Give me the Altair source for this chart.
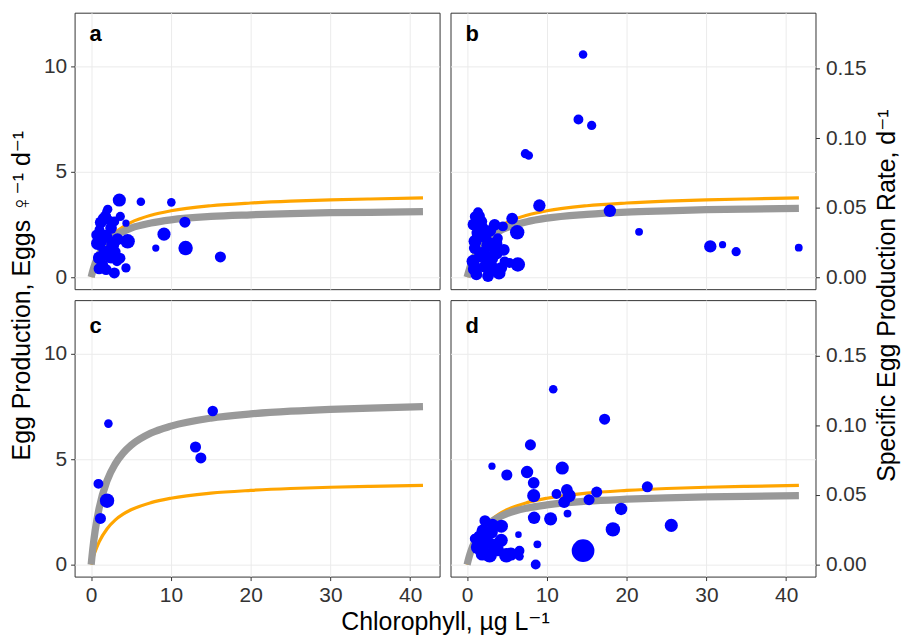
import altair as alt
import pandas as pd

# ---------------- data ----------------
# panel a
a_x = [3.53, 6.23, 10.05, 2.08, 3.65, 4.36, 1.46, 1.04, 2.49, 4.57, 1.25, 2.70, 1.04, 2.49, 1.87,
       2.90, 4.36, 1.46, 1.66, 2.90, 9.13, 8.10, 11.75, 11.84, 3.24, 1.87, 16.20, 2.0, 2.2, 1.5, 3.0,
       0.8, 1.2, 2.2, 1.8, 3.3, 1.0, 3.6, 0.7]
a_y = [3.66, 3.58, 3.55, 3.22, 2.88, 2.56, 2.80, 2.25, 2.33, 1.70, 1.70, 1.54, 0.91, 0.99, 0.36,
       0.20, 0.44, 1.30, 2.01, 2.64, 2.04, 1.38, 2.61, 1.38, 0.75, 3.11, 0.96, 1.9, 2.7, 0.6, 1.2,
       1.6, 2.6, 1.2, 2.9, 1.8, 0.4, 0.9, 2.0]
a_w = [2.8, 1.2, 1.2, 1.4, 1.4, 0.85, 1.6, 1.6, 2.25, 3.4, 2.25, 2.8, 2.8, 3.4, 2.0,
       2.0, 1.4, 1.4, 1.6, 1.6, 2.8, 0.85, 2.0, 3.4, 1.6, 1.0, 2.0, 2.0, 1.6, 1.6, 2.0,
       2.8, 2.25, 2.8, 2.0, 2.25, 2.0, 2.0, 2.0]
# panel b
b_x = [14.54, 13.96, 15.62, 7.31, 7.73, 9.06, 17.90, 5.65, 6.28, 6.36, 21.56, 30.49, 32.03, 33.73, 41.58,
       1.37, 3.45, 4.49, 1.37, 1.79, 3.04, 0.96, 3.66, 0.75, 2.42, 2.62, 1.17, 4.28, 2.21, 3.86,
       1.58, 4.70, 0.96, 5.32,
       1.0, 2.0, 3.0, 1.9, 2.6, 1.0, 3.6, 4.0, 1.5, 2.9, 3.3, 0.8, 4.6]
b_y = [10.57, 7.48, 7.20, 5.86, 5.77, 3.40, 3.15, 2.78, 2.13, 0.60, 2.15, 1.46, 1.54, 1.21, 1.40,
       3.08, 2.48, 2.41, 2.09, 2.64, 1.54, 1.38, 1.15, 0.75, 0.52, 0.05, 0.13, 0.44, 1.93, 1.85,
       0.99, 0.75, 2.88, 0.67,
       0.4, 1.1, 0.9, 2.3, 1.5, 1.7, 1.6, 0.2, 2.9, 2.2, 0.4, 2.5, 1.3]
b_w = [1.2, 1.6, 1.4, 1.4, 1.2, 2.5, 2.5, 2.25, 3.4, 3.4, 1.0, 2.5, 0.85, 1.4, 1.0,
       1.6, 2.25, 1.6, 2.8, 2.25, 3.4, 2.25, 2.8, 2.8, 3.4, 2.25, 2.25, 2.25, 2.8, 1.6,
       2.25, 1.6, 1.6, 1.6,
       3.4, 3.4, 3.4, 2.8, 2.8, 2.8, 2.8, 2.8, 2.25, 2.25, 2.8, 2.25, 2.25]
# panel c
c_x = [2.16, 0.91, 1.99, 1.16, 13.08, 13.75, 15.24]
c_y = [6.69, 3.83, 3.03, 2.19, 5.58, 5.06, 7.29]
c_w = [1.2, 1.6, 3.4, 2.0, 2.0, 2.0, 1.8]
# panel d
d_x = [10.80, 17.24, 7.94, 3.12, 4.98, 7.52, 11.93, 8.35, 8.35, 11.21, 12.51, 12.80, 12.17, 12.59,
       16.25, 15.29, 22.60, 19.31, 10.47, 8.40, 18.28, 25.60, 14.54, 6.44, 8.81, 8.60, 6.57, 6.57,
       2.24, 4.30, 1.58, 3.04, 4.28, 1.37, 2.83, 4.91, 3.45, 0.96, 2.2,
       2.0, 2.5, 3.8, 1.9, 3.2, 5.5]
d_y = [8.32, 6.90, 5.68, 4.67, 4.25, 4.39, 4.58, 3.88, 3.27, 3.35, 3.54, 3.27, 2.96, 2.42,
       3.44, 3.08, 3.69, 2.64, 2.17, 2.22, 1.67, 1.86, 0.66, 1.42, 0.96, 0.00, 0.66, 0.39,
       2.08, 1.82, 1.31, 1.54, 1.15, 0.83, 0.44, 0.44, 0.91, 1.23, 1.0,
       1.6, 1.1, 0.7, 0.5, 1.9, 0.5]
d_w = [1.2, 2.0, 2.0, 0.85, 2.0, 2.5, 2.8, 2.25, 2.8, 1.6, 2.25, 2.8, 2.25, 1.0,
       2.0, 2.0, 2.0, 2.5, 2.8, 2.5, 3.4, 2.8, 8.4, 0.7, 1.0, 1.6, 1.6, 1.2,
       2.0, 2.8, 2.8, 2.8, 2.8, 3.4, 3.4, 3.4, 2.8, 1.6, 2.8,
       2.8, 2.8, 2.8, 2.8, 2.25, 2.8]

# fitted curves
curve_x = [0, 0.25, 0.5, 1, 2, 3, 4, 5, 7.5, 10, 15, 20, 25, 30, 35, 41.6]
orange_y = [0, 0.34, 0.62, 1.08, 1.70, 2.11, 2.39, 2.60, 2.94, 3.15, 3.39, 3.52, 3.61, 3.67, 3.71, 3.76]
grey_a = [0, 0.36, 0.65, 1.09, 1.63, 1.96, 2.17, 2.33, 2.57, 2.72, 2.88, 2.96, 3.02, 3.06, 3.08, 3.11]
grey_b = [0, 0.33, 0.61, 1.03, 1.59, 1.94, 2.18, 2.35, 2.63, 2.80, 2.98, 3.09, 3.15, 3.20, 3.23, 3.27]
grey_c = [0, 0.90, 1.61, 2.68, 3.99, 4.77, 5.29, 5.66, 6.24, 6.57, 6.95, 7.15, 7.28, 7.37, 7.43, 7.49]
grey_d = [0, 0.36, 0.66, 1.11, 1.67, 2.02, 2.25, 2.42, 2.68, 2.83, 3.01, 3.10, 3.16, 3.21, 3.24, 3.27]

x_ticks = [0, 10, 20, 30, 40]
y_ticks = [0, 5, 10]
rate_ticks = [0, 0.05, 0.10, 0.15]

XDOM = [-2.08, 43.68]
YDOM = [-0.57, 12.55]
RATE = 1 / 66.0  # specific rate per egg

FONT = "Liberation Sans"
TFONT = "Liberation Sans, DejaVu Sans"
W, H = 367, 278
LABEL_FS = 21
TITLE_FS = 25


def make_panel(letter, px, py, pw, grey, col, row):
    pts = pd.DataFrame({"chl": px, "egg": py, "w": pw})
    cur = pd.DataFrame({"chl": curve_x, "orange": orange_y, "grey": grey})
    lab = pd.DataFrame({"t": [letter]})
    bottom = row == 1
    left = col == 0

    xkw = dict(values=x_ticks, grid=True, labels=bottom, ticks=bottom, domain=False, labelPadding=4)
    if bottom and left:
        xkw.update(title="Chlorophyll, µg L⁻¹", titleX=W + 5.5, titleY=33, titleBaseline="top")
    else:
        xkw.update(title=None)
    xaxis = alt.Axis(**xkw)

    ykw = dict(values=y_ticks, grid=True, labels=left, ticks=left, domain=False)
    if left and row == 0:
        ykw.update(title="Egg Production, Eggs  ♀⁻¹ d⁻¹", titleX=-40, titleY=H + 6)
    else:
        ykw.update(title=None)
    yaxis = alt.Axis(**ykw)

    xs = alt.Scale(domain=XDOM, nice=False, zero=False)
    ys = alt.Scale(domain=YDOM, nice=False, zero=False)
    X = alt.X("chl:Q", scale=xs, axis=xaxis)

    orange = alt.Chart(cur).mark_line(color="#FFA500", strokeWidth=3.2, interpolate="monotone").encode(
        x=X, y=alt.Y("orange:Q", scale=ys, axis=yaxis))
    greyl = alt.Chart(cur).mark_line(color="#999999", strokeWidth=7.3, interpolate="monotone").encode(
        x=X, y=alt.Y("grey:Q", scale=ys, axis=yaxis))
    points = alt.Chart(pts).mark_circle(color="#0000FF", opacity=1).encode(
        x=X, y=alt.Y("egg:Q", scale=ys, axis=yaxis),
        size=alt.Size("w:Q", scale=alt.Scale(domain=[0, 10], range=[0, 620]), legend=None))
    text = alt.Chart(lab).mark_text(font=FONT, fontSize=22, fontWeight="bold", align="left",
                                    baseline="alphabetic", color="black").encode(
        x=alt.value(15), y=alt.value(28 if row == 0 else 33), text="t:N")
    base = alt.layer(orange, greyl, points, text)

    if left:
        return base.properties(width=W, height=H)

    rkw = dict(orient="right", values=rate_ticks, format=".2f", grid=False, domain=False, labelPadding=6)
    if row == 0:
        rkw.update(title="Specific Egg Production Rate, d⁻¹", titleAngle=270, titleBaseline="top",
                   titleX=59, titleY=H + 6)
    else:
        rkw.update(title=None)
    sec = alt.Chart(pts).transform_calculate(rate=f"datum.egg * {RATE}").mark_point(opacity=0).encode(
        x=X,
        y=alt.Y("rate:Q", scale=alt.Scale(domain=[YDOM[0] * RATE, YDOM[1] * RATE], nice=False, zero=False),
                axis=alt.Axis(**rkw)))
    return alt.layer(base, sec).resolve_scale(y="independent").properties(width=W, height=H)


pa = make_panel("a", a_x, a_y, a_w, grey_a, 0, 0)
pb = make_panel("b", b_x, b_y, b_w, grey_b, 1, 0)
pc = make_panel("c", c_x, c_y, c_w, grey_c, 0, 1)
pd_ = make_panel("d", d_x, d_y, d_w, grey_d, 1, 1)

chart = alt.concat(pa, pb, pc, pd_, columns=2, spacing=11, bounds="flush").properties(
    padding={"left": 9, "top": 10, "right": 4, "bottom": 4},
    background="white",
).configure_view(
    stroke="#333333", strokeWidth=1
).configure_axis(
    labelFont=FONT, labelFontSize=LABEL_FS, labelColor="#333333", labelPadding=4,
    titleFont=TFONT, titleFontSize=TITLE_FS, titleFontWeight="normal", titleColor="black",
    gridColor="#ebebeb", gridWidth=1, tickColor="#333333", tickSize=4, tickWidth=1,
)

chart.save("out.html", embed_options={"renderer": "svg", "actions": False})
